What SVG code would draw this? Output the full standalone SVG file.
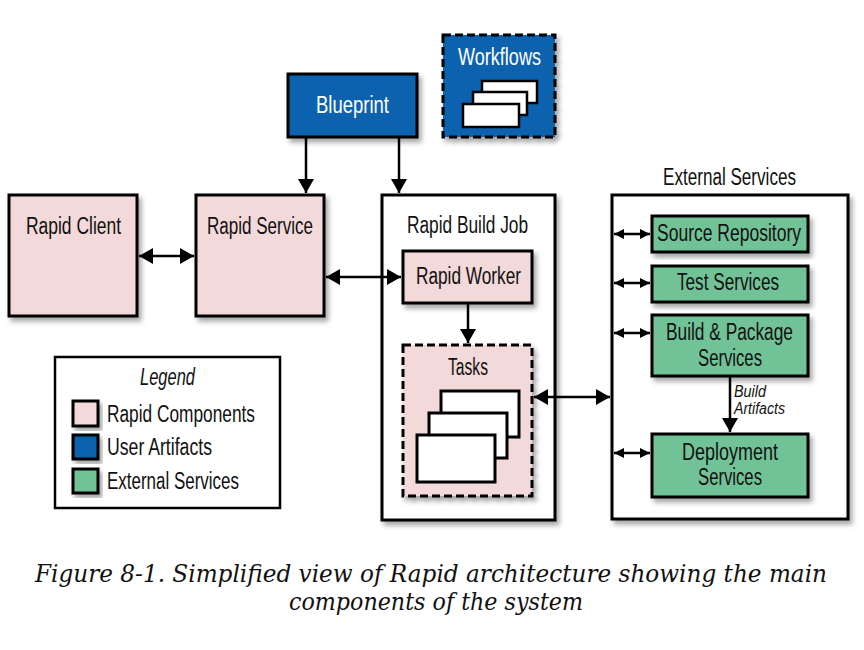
<svg xmlns="http://www.w3.org/2000/svg" width="864" height="650" viewBox="0 0 864 650">
<defs>
<style>
.box{stroke:#000;stroke-width:3;}
.pink{fill:#f3d9d9;}
.blue{fill:#0762b0;}
.green{fill:#72c297;}
.white{fill:#fff;}
.dash{stroke-dasharray:8 4;}
.sh{filter:url(#shadow);}
.t{font-family:"Liberation Sans Narrow","Liberation Sans",Arial,sans-serif;font-size:23.5px;fill:#111;text-anchor:middle;}
.tw{fill:#fff;}
.ts{text-anchor:start;}
.it{font-style:italic;}
.sm{font-size:16px;}
.cap{font-family:"DejaVu Serif","Liberation Serif",serif;font-style:italic;font-size:23.5px;fill:#111;text-anchor:middle;}
.ln{stroke:#000;stroke-width:2.5;fill:none;}
.ic{fill:#fff;stroke:#000;stroke-width:2.5;}
</style>
<filter id="shadow" x="-10%" y="-10%" width="130%" height="130%">
<feDropShadow dx="3" dy="4" stdDeviation="2.5" flood-color="#000" flood-opacity="0.35"/>
</filter>
<marker id="ah" viewBox="0 0 14 16" refX="14" refY="8" markerWidth="14" markerHeight="16" markerUnits="userSpaceOnUse" orient="auto-start-reverse">
<path d="M0,0 L14,8 L0,16 Z" fill="#000"/>
</marker>
<marker id="as" viewBox="0 0 10 10" refX="10" refY="5" markerWidth="10" markerHeight="10" markerUnits="userSpaceOnUse" orient="auto-start-reverse">
<path d="M0,0 L10,5 L0,10 Z" fill="#000"/>
</marker>
</defs>
<rect width="864" height="650" fill="#fff"/>

<g id="rapid-client">
<rect class="box pink sh" x="9" y="195" width="128" height="121"/>
<text class="t" x="73.5" y="234" textLength="95" lengthAdjust="spacingAndGlyphs">Rapid Client</text>
</g>
<g id="rapid-service">
<rect class="box pink sh" x="196" y="195" width="128" height="121"/>
<text class="t" x="260" y="234" textLength="106" lengthAdjust="spacingAndGlyphs">Rapid Service</text>
</g>
<g id="blueprint">
<rect class="box blue sh" x="288" y="74" width="129" height="63"/>
<text class="t tw" x="352.5" y="113" textLength="73" lengthAdjust="spacingAndGlyphs">Blueprint</text>
</g>
<g id="workflows">
<rect class="box blue dash sh" x="443" y="35" width="112" height="102"/>
<text class="t tw" x="499.5" y="65" textLength="83" lengthAdjust="spacingAndGlyphs">Workflows</text>
<rect class="ic" x="482" y="81" width="55" height="22"/>
<rect class="ic" x="473" y="92" width="54" height="23"/>
<rect class="ic" x="463" y="104" width="56" height="23"/>
</g>
<g id="rapid-build-job">
<rect class="box white sh" x="382" y="195" width="173" height="325"/>
<text class="t" x="467.5" y="233" textLength="121" lengthAdjust="spacingAndGlyphs">Rapid Build Job</text>
</g>
<g id="rapid-worker">
<rect class="box pink sh" x="403" y="251" width="129" height="52"/>
<text class="t" x="468.5" y="284" textLength="105" lengthAdjust="spacingAndGlyphs">Rapid Worker</text>
</g>
<g id="tasks">
<rect class="box pink dash sh" x="403" y="345" width="129" height="151"/>
<text class="t" x="468" y="375" textLength="40" lengthAdjust="spacingAndGlyphs">Tasks</text>
<rect class="ic" style="stroke-width:3" x="441" y="391" width="78" height="46"/>
<rect class="ic" style="stroke-width:3" x="429" y="413" width="78" height="45"/>
<rect class="ic" style="stroke-width:3" x="417" y="435" width="78" height="47"/>
</g>
<g id="external-services">
<text class="t" x="729.5" y="185" textLength="133" lengthAdjust="spacingAndGlyphs">External Services</text>
<rect class="box white sh" x="612" y="195" width="236" height="324"/>
</g>
<g id="source-repository">
<rect class="box green sh" x="652" y="216" width="156" height="36"/>
<text class="t" x="729" y="241" textLength="144" lengthAdjust="spacingAndGlyphs">Source Repository</text>
</g>
<g id="test-services">
<rect class="box green sh" x="652" y="266" width="156" height="36"/>
<text class="t" x="728" y="290" textLength="102" lengthAdjust="spacingAndGlyphs">Test Services</text>
</g>
<g id="build-package-services">
<rect class="box green sh" x="652" y="315" width="156" height="61"/>
<text class="t" x="729.5" y="340" textLength="127" lengthAdjust="spacingAndGlyphs">Build &amp; Package</text>
<text class="t" x="730" y="366" textLength="64" lengthAdjust="spacingAndGlyphs">Services</text>
</g>
<g id="deployment-services">
<rect class="box green sh" x="652" y="434" width="156" height="63"/>
<text class="t" x="730" y="460" textLength="96" lengthAdjust="spacingAndGlyphs">Deployment</text>
<text class="t" x="730" y="485" textLength="64" lengthAdjust="spacingAndGlyphs">Services</text>
</g>

<g id="connectors">
<line class="ln" x1="139" y1="256" x2="194" y2="256" marker-start="url(#ah)" marker-end="url(#ah)"/>
<line class="ln" x1="326" y1="277" x2="401" y2="277" marker-start="url(#ah)" marker-end="url(#ah)"/>
<line class="ln" x1="306" y1="138" x2="306" y2="193" marker-end="url(#ah)"/>
<line class="ln" x1="399" y1="138" x2="399" y2="193" marker-end="url(#ah)"/>
<line class="ln" x1="468" y1="304" x2="468" y2="343" marker-end="url(#ah)"/>
<line class="ln" x1="534" y1="397" x2="610" y2="397" marker-start="url(#ah)" marker-end="url(#ah)"/>
<line class="ln" x1="614" y1="234" x2="650" y2="234" marker-start="url(#as)" marker-end="url(#as)"/>
<line class="ln" x1="614" y1="283" x2="650" y2="283" marker-start="url(#as)" marker-end="url(#as)"/>
<line class="ln" x1="614" y1="333" x2="650" y2="333" marker-start="url(#as)" marker-end="url(#as)"/>
<line class="ln" x1="614" y1="453" x2="650" y2="453" marker-start="url(#as)" marker-end="url(#as)"/>
<line class="ln" x1="730" y1="377" x2="730" y2="432" marker-end="url(#ah)"/>
<text class="t it sm ts" x="734" y="397" textLength="32" lengthAdjust="spacingAndGlyphs">Build</text>
<text class="t it sm ts" x="734" y="414" textLength="51" lengthAdjust="spacingAndGlyphs">Artifacts</text>
</g>

<g id="legend">
<rect x="55" y="357" width="225" height="151" fill="#fff" stroke="#000" stroke-width="2.5"/>
<text class="t it" x="167.5" y="385" textLength="55" lengthAdjust="spacingAndGlyphs">Legend</text>
<rect class="box pink sh" x="73" y="401" width="25" height="25"/>
<rect class="box blue sh" x="73" y="435" width="25" height="24"/>
<rect class="box green sh" x="73" y="469" width="25" height="24"/>
<text class="t ts" x="107" y="422" textLength="148" lengthAdjust="spacingAndGlyphs">Rapid Components</text>
<text class="t ts" x="107" y="455" textLength="105" lengthAdjust="spacingAndGlyphs">User Artifacts</text>
<text class="t ts" x="107" y="489" textLength="132" lengthAdjust="spacingAndGlyphs">External Services</text>
</g>

<g id="caption">
<text class="cap" x="431" y="582" textLength="792" lengthAdjust="spacingAndGlyphs">Figure 8-1. Simplified view of Rapid architecture showing the main</text>
<text class="cap" x="436" y="610" textLength="294" lengthAdjust="spacingAndGlyphs">components of the system</text>
</g>
</svg>
